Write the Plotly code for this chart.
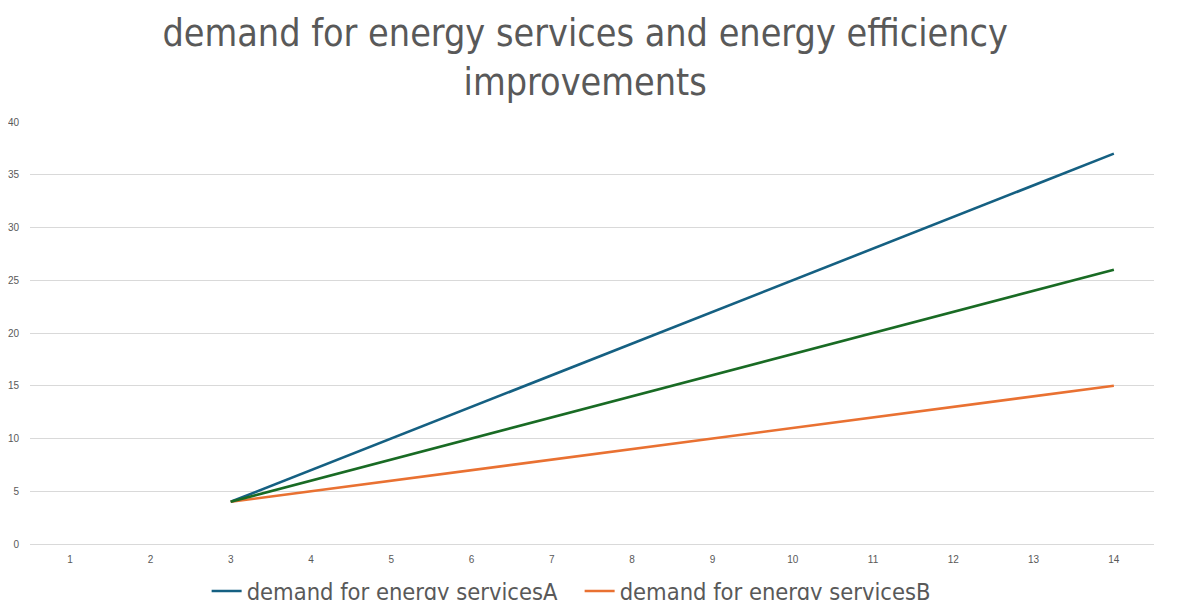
import plotly.graph_objects as go

categories = list(range(1, 15))
series_a = [None, None, 4, 7, 10, 13, 16, 19, 22, 25, 28, 31, 34, 37]
series_b = [None, None, 4, 5, 6, 7, 8, 9, 10, 11, 12, 13, 14, 15]
series_c = [None, None, 4, 6, 8, 10, 12, 14, 16, 18, 20, 22, 24, 26]
names = ["demand for energy servicesA", "demand for energy servicesB", "demand for energy servicesC"]
colors = ["#156082", "#E97132", "#196B24"]

fig = go.Figure()
for vals, name, col, show in [(series_a, names[0], colors[0], True),
                              (series_b, names[1], colors[1], True),
                              (series_c, names[2], colors[2], False)]:
    fig.add_trace(go.Scatter(x=categories, y=vals, name=name, mode="lines",
                             line=dict(color=col, width=2.6), showlegend=show))

title_font = "DejaVu Sans Condensed, DejaVu Sans, sans-serif"
fig.update_layout(
    width=1200, height=600,
    paper_bgcolor="white", plot_bgcolor="white",
    margin=dict(l=22, r=54, t=114, b=64, autoexpand=False),
    title=dict(text="demand for energy services and energy efficiency<br>improvements",
               x=0.481, xanchor="center", y=0.936, yanchor="top",
               font=dict(family=title_font, size=37.4, color="#595959")),
    xaxis=dict(range=[0.5, 14.5], tickmode="array", tickvals=categories,
               ticktext=[str(c) for c in categories], showgrid=False, zeroline=False,
               showline=True, linecolor="#D9D9D9", linewidth=1, ticks="",
               ticklabelstandoff=6, automargin=False,
               tickfont=dict(family="Liberation Sans, Arial, sans-serif", size=10, color="#595959")),
    yaxis=dict(range=[0, 40], dtick=5, showgrid=True, gridcolor="#D9D9D9", gridwidth=1,
               zeroline=False, showline=False, ticks="", ticklabelstandoff=10, automargin=False,
               tickfont=dict(family="Liberation Sans, Arial, sans-serif", size=10, color="#595959")),
    legend=dict(orientation="h", x=0.489, xanchor="center", yref="container", y=0.028, yanchor="middle",
                font=dict(family=title_font, size=23.5, color="#595959"),
                itemwidth=30, entrywidth=328, tracegroupgap=0),
)

fig.write_html("out.html")
